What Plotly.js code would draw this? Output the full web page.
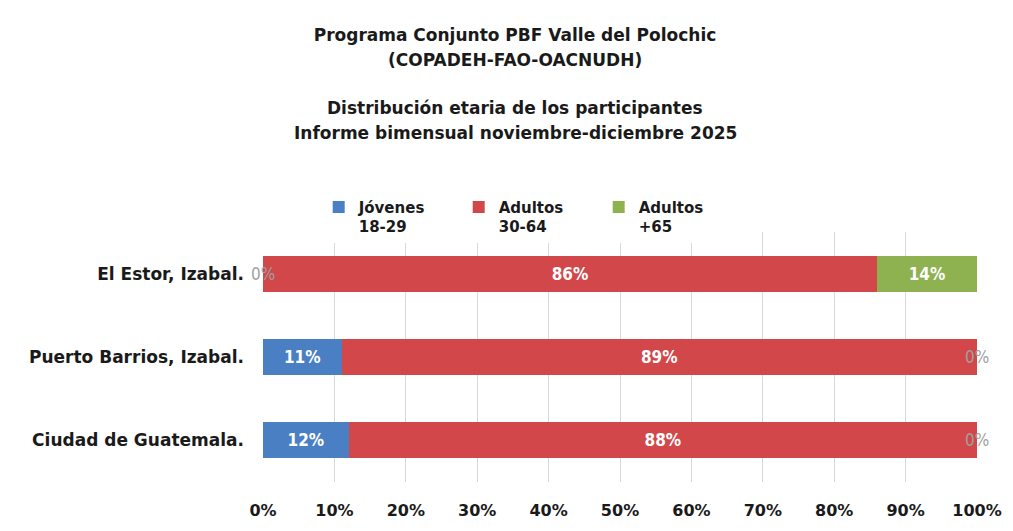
<!DOCTYPE html>
<html><head><meta charset="utf-8">
<script src="https://cdn.plot.ly/plotly-3.0.1.min.js"></script>
<style>html,body{margin:0;padding:0;background:#fff}#c{width:1013px;height:531px}</style>
</head><body><div id="c"></div>
<script>
const categories = ["El Estor, Izabal.", "Puerto Barrios, Izabal.", "Ciudad de Guatemala."];
const seriesNames = ["Jóvenes<br>18-29", "Adultos<br>30-64", "Adultos<br>+65"];
const jovenes = [0, 0.11, 0.12];
const adultos = [0.86, 0.89, 0.88];
const mayores = [0.14, 0, 0];
const tickVals = [0,0.1,0.2,0.3,0.4,0.5,0.6,0.7,0.8,0.9,1];
const tickText = ["0%","10%","20%","30%","40%","50%","60%","70%","80%","90%","100%"];
const titleLines = ["Programa Conjunto PBF Valle del Polochic", "(COPADEH-FAO-OACNUDH)",
  "Distribución etaria de los participantes", "Informe bimensual noviembre-diciembre 2025"];

const series = [jovenes, adultos, mayores];
const colors = ["#4a7fc4", "#d1474a", "#8db24f"];
const boldFont = "'DejaVu Sans', sans-serif";
const condFont = "'DejaVu Sans Condensed', 'DejaVu Sans', sans-serif";
const labelFont = {family: condFont, size: 17, color: "#ffffff", weight: 700};

const traces = series.map((vals, i) => ({
  type: "bar", orientation: "h",
  name: seriesNames[i],
  y: categories, x: vals,
  marker: {color: colors[i]},
  text: vals.map(v => v > 0 ? Math.round(v*100) + "%" : ""),
  textposition: "inside", insidetextanchor: "middle",
  textfont: labelFont,
  hoverinfo: "skip"
}));

const annotations = [];
// title lines 2-4
const linePix = [60, 108, 133];
[1,2,3].forEach((li, k) => {
  annotations.push({text: titleLines[li], xref: "paper", yref: "paper", x: (515 - 263) / 714,
    y: (482 - linePix[k]) / 250, yanchor: "middle", xanchor: "center", showarrow: false,
    font: {family: boldFont, size: 17, color: "#1a1a1a", weight: 700}});
});
// gray labels for zero-width segments, positioned at cumulative value
categories.forEach((cat, ci) => {
  let cum = 0;
  series.forEach((vals) => {
    const v = vals[ci];
    if (v === 0) {
      annotations.push({x: cum, y: cat, xref: "x", yref: "y", text: "0%", showarrow: false,
        font: {family: condFont, size: 17, color: "#a0a0a0"}});
    }
    cum += v;
  });
});

const layout = {
  width: 1013, height: 531,
  paper_bgcolor: "#ffffff", plot_bgcolor: "#ffffff",
  margin: {l: 263, r: 36, t: 232, b: 49},
  barmode: "stack", bargap: 0.57,
  title: {
    text: titleLines[0],
    xref: "container", x: 515 / 1013, xanchor: "center", yref: "container", y: 1 - 35/531, yanchor: "middle",
    font: {family: boldFont, size: 17, color: "#1a1a1a", weight: 700}
  },
  xaxis: {
    range: [0, 1], tickvals: tickVals, ticktext: tickText,
    showgrid: true, gridcolor: "#d9d9d9", gridwidth: 1,
    zeroline: false, showline: false, ticks: "", ticklabelstandoff: 17,
    tickfont: {family: boldFont, size: 16, color: "#1a1a1a", weight: 700},
    fixedrange: true
  },
  yaxis: {
    autorange: "reversed", showgrid: false, zeroline: false, ticks: "", ticklen: 0,
    ticklabelstandoff: 18,
    tickfont: {family: boldFont, size: 17, color: "#1a1a1a", weight: 700},
    fixedrange: true
  },
  legend: {
    orientation: "h", x: 0.078, xanchor: "left", y: 1.165, yanchor: "top", valign: "top",
    font: {family: boldFont, size: 15, color: "#1a1a1a", weight: 700},
    entrywidth: 95, entrywidthmode: "pixels", itemwidth: 30, traceorder: "normal"
  },
  annotations: annotations,
  showlegend: true
};

Plotly.newPlot("c", traces, layout, {displayModeBar: false, staticPlot: true});
</script></body></html>
